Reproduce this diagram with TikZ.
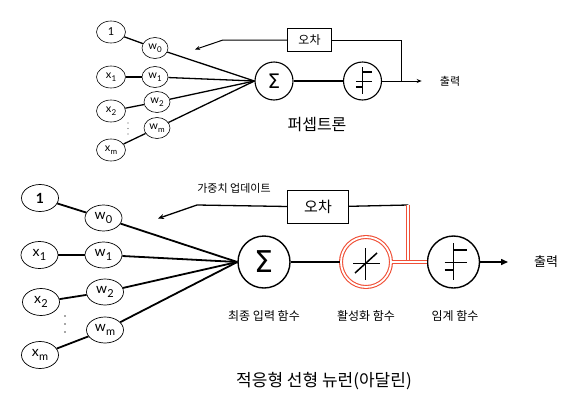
\documentclass[tikz,border=0pt]{standalone}
\usepackage{fontspec}
\setmainfont{Lato}
\newfontfamily\kr{Noto Sans CJK KR}
\newfontfamily\symf{DejaVu Sans}
\usetikzlibrary{shapes.geometric,arrows.meta}
\definecolor{actred}{RGB}{240,80,55}
\newcommand{\subA}[2]{#1\kern0.2pt\raisebox{-2.5pt}{\fontsize{8}{8}\selectfont #2}}
\newcommand{\subB}[2]{#1\kern0.3pt\raisebox{-3.5pt}{\fontsize{11}{11}\selectfont #2}}
\tikzset{
  inA/.style={ellipse, draw, line width=0.6pt, minimum width=29pt, minimum height=22pt, inner sep=0pt, font=\fontsize{11}{11}\selectfont},
  wA/.style={ellipse, draw, line width=0.6pt, minimum width=26pt, minimum height=21pt, inner sep=0pt, font=\fontsize{11}{11}\selectfont},
  inB/.style={ellipse, draw, line width=0.7pt, minimum width=37pt, minimum height=27pt, inner sep=0pt, font=\fontsize{14}{14}\selectfont},
  wB/.style={ellipse, draw, line width=0.7pt, minimum width=37pt, minimum height=26pt, inner sep=0pt, font=\fontsize{14}{14}\selectfont},
  conA/.style={line width=1.3pt},
  conB/.style={line width=1.8pt},
  circA/.style={circle, draw, line width=1.1pt, minimum size=38pt, inner sep=0pt},
  circB/.style={circle, draw, line width=1.4pt, minimum size=52pt, inner sep=0pt},
  boxA/.style={draw, line width=1pt, minimum width=44pt, minimum height=23pt, inner sep=0pt, font=\kr\fontsize{12}{12}\selectfont},
  boxB/.style={draw, line width=1.3pt, minimum width=61pt, minimum height=33pt, inner sep=0pt, font=\kr\fontsize{15}{15}\selectfont},
  lab/.style={font=\kr\fontsize{11}{11}\selectfont, inner sep=0pt},
  thinax/.style={line width=0.6pt},
  thickax/.style={line width=1.5pt},
  redd/.style={draw=actred, line width=1.1pt, double=white, double distance=1.8pt},
  dotf/.style={fill=black!70},
}
\begin{document}
\begin{tikzpicture}[x=1pt,y=-1pt]
\useasboundingbox (0,0) rectangle (567,407);
% ===== top: perceptron =====
\node[inA] (a1) at (111,32) {1};
\node[inA] (ax1) at (111,77) {\subA{x}{1}};
\node[inA] (ax2) at (111,111) {\subA{x}{2}};
\node[inA] (axm) at (111,150) {\subA{x}{m}};
\node[wA] (aw0) at (155,48) {\subA{w}{0}};
\node[wA] (aw1) at (155,77) {\subA{w}{1}};
\node[wA] (aw2) at (157,102) {\subA{w}{2}};
\node[wA] (awm) at (157,128) {\subA{w}{m}};
\foreach \yy in {123,128.5,134} \fill[dotf] (128,\yy) circle (0.7pt);
\node[circA, font=\symf\fontsize{20}{20}\selectfont] (asum) at (274,81) {Σ};
\node[circA] (astep) at (362.5,81) {};
\node[boxA] (aerr) at (309.5,40) {오차};
\coordinate (ajn) at (401.7,81);
\coordinate (ajt) at (401.7,40);
\coordinate (aout) at (421.7,81);
\coordinate (afb) at (223,40);
\coordinate (afbt) at (195,49.5);
\node[font=\kr\fontsize{11}{11}\selectfont, inner sep=0pt] (aoutl) at (450,81) {출력};
\node[font=\kr\fontsize{16}{16}\selectfont, inner sep=0pt] (atitle) at (317,125) {퍼셉트론};
\draw[conA] (a1) -- (aw0);
\draw[conA] (ax1) -- (aw1);
\draw[conA] (ax2) -- (aw2);
\draw[conA] (axm) -- (awm);
\foreach \w in {aw0,aw1,aw2,awm} \draw[conA] (\w) -- (asum.west);
\draw[conA] (asum) -- (astep);
\draw[line width=1pt, -{Stealth[length=5pt,width=4pt]}] (astep) -- (aout);
\draw[line width=1pt] (aerr) -- (ajt) -- (ajn);
\draw[line width=1pt, -{Stealth[length=5pt,width=4pt]}] (aerr) -- (afb) -- (afbt);
\begin{scope}[shift={(astep.center)}, scale=0.73]
  \draw[thinax] (-9,0) -- (13,0);
  \draw[thinax] (0,-19) -- (0,18);
  \draw[thickax] (-9,8) -- (0,8) -- (0,-12) -- (13,-12);
\end{scope}
% ===== bottom: adaline =====
\node[inB] (b1) at (40,198) {\textbf{1}};
\node[inB] (bx1) at (39.5,255) {\subB{x}{1}};
\node[inB] (bx2) at (41,302) {\subB{x}{2}};
\node[inB] (bxm) at (40,355) {\subB{x}{m}};
\node[wB] (bw0) at (103.5,218) {\subB{w}{0}};
\node[wB] (bw1) at (103.5,255) {\subB{w}{1}};
\node[wB] (bw2) at (105,292) {\subB{w}{2}};
\node[wB] (bwm) at (105,330) {\subB{w}{m}};
\foreach \yy in {316,324,332} \fill[dotf] (65,\yy) circle (0.9pt);
\node[circB, font=\symf\fontsize{30}{30}\selectfont] (bsum) at (264,262) {Σ};
\node[circle, minimum size=50pt, inner sep=0pt, redd] (bact) at (366,262) {};
\node[circB] (bstep) at (453.5,262) {};
\node[boxB] (berr) at (318,207) {오차};
\coordinate (bjt) at (408.3,205);
\coordinate (bjn) at (408.3,262);
\coordinate (bout) at (508,262);
\coordinate (bfb) at (197,205);
\coordinate (bfbt) at (158,218.5);
\node[font=\kr\fontsize{13}{13}\selectfont, inner sep=0pt] (boutl) at (546,262) {출력};
\node[lab] (bupd) at (234,188) {가중치 업데이트};
\node[lab, font=\kr\fontsize{12}{12}\selectfont] (bl1) at (264,316) {최종 입력 함수};
\node[lab, font=\kr\fontsize{12}{12}\selectfont] (bl2) at (366,316) {활성화 함수};
\node[lab, font=\kr\fontsize{12}{12}\selectfont] (bl3) at (455,316) {임계 함수};
\node[font=\kr\fontsize{17}{17}\selectfont, inner sep=0pt] (btitle) at (324,381) {적응형 선형 뉴런(아달린)};
\draw[conB] (b1) -- (bw0);
\draw[conB] (bx1) -- (bw1);
\draw[conB] (bx2) -- (bw2);
\draw[conB] (bxm) -- (bwm);
\foreach \w in {bw0,bw1,bw2,bwm} \draw[conB] (\w) -- (bsum.west);
\draw[conB] (bsum) -- (bact);
\draw[line width=1.3pt] (berr) -- (bjt);
\draw[redd] (bjt) -- (bjn);
\draw[redd] (bact) -- (bstep);
\draw[line width=1.5pt, -{Triangle[length=7pt,width=6pt]}] (bstep) -- (bout);
\draw[line width=1.3pt, -{Stealth[length=6pt,width=5pt]}] (berr) -- (bfb) -- (bfbt);
\begin{scope}[shift={(bstep.center)}]
  \draw[thinax] (-9,0) -- (13,0);
  \draw[thinax] (0,-19) -- (0,18);
  \draw[thickax] (-9,8) -- (0,8) -- (0,-12) -- (13,-12);
\end{scope}
\begin{scope}[shift={(bact.center)}]
  \draw[thinax] (-13,1) -- (14,1);
  \draw[thinax] (-1,-14) -- (-1,18);
  \draw[thickax] (-11,11) -- (11,-9);
\end{scope}
\end{tikzpicture}
\end{document}
